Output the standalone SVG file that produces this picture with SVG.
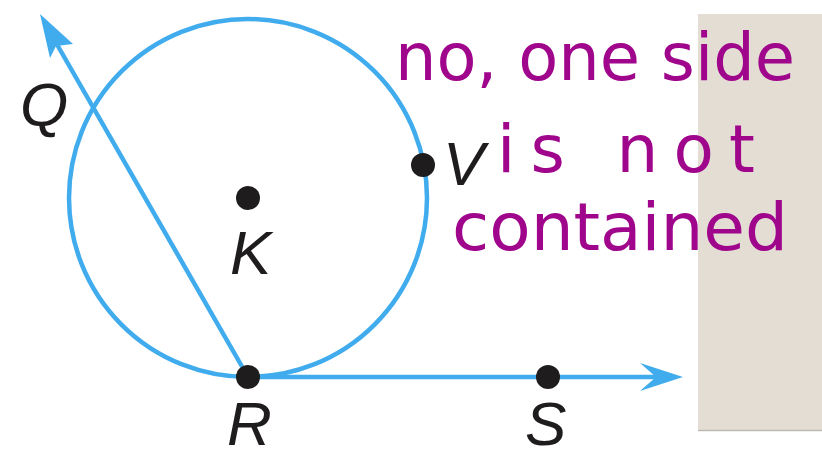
<svg xmlns="http://www.w3.org/2000/svg" width="822" height="451" viewBox="0 0 822 451">
<style>
.ln{fill:none;stroke:#41aced;stroke-width:4.5}
.ah{fill:#41aced}
.dot{fill:#1e1c1c}
.lbl{font-family:"Liberation Sans",Arial,sans-serif;font-style:italic;font-size:62px;fill:#1e1c1c}
.hw{font-family:"DejaVu Sans","Liberation Sans",sans-serif;font-size:66px;fill:#a0068c}
</style>
<rect width="822" height="451" fill="#ffffff"/>
<rect x="698" y="14" width="124" height="416" fill="#e3ddd3"/>
<line x1="698" y1="430.5" x2="822" y2="430.5" stroke="#bdbab6" stroke-width="1.5"/>
<g id="circle">
<circle class="ln" cx="248" cy="198" r="179"/>
</g>
<g id="connectors">
<line class="ln" x1="248" y1="377" x2="55" y2="41"/>
<polygon class="ah" points="40,14 73,44 56,46 50,58"/>
<line class="ln" x1="248" y1="377" x2="662" y2="377"/>
<polygon class="ah" points="683,377 640,363 656,377 640,391"/>
</g>
<g id="K"><circle class="dot" cx="248" cy="198" r="12"/><text class="lbl" x="230" y="274">K</text></g>
<g id="V"><circle class="dot" cx="423" cy="165" r="12"/><text class="lbl" x="443" y="185">V</text></g>
<g id="R"><circle class="dot" cx="248" cy="377" r="12"/><text class="lbl" x="227" y="445">R</text></g>
<g id="S"><circle class="dot" cx="548" cy="377" r="12"/><text class="lbl" x="525" y="445">S</text></g>
<g id="Q"><text class="lbl" x="20" y="126">Q</text></g>
<g id="note">
<text class="hw" x="395" y="80" textLength="400" lengthAdjust="spacingAndGlyphs">no, one side</text>
<text class="hw" x="497" y="172" textLength="258" lengthAdjust="spacing">is not</text>
<text class="hw" x="452" y="250" textLength="336" lengthAdjust="spacingAndGlyphs">contained</text>
</g>
</svg>
